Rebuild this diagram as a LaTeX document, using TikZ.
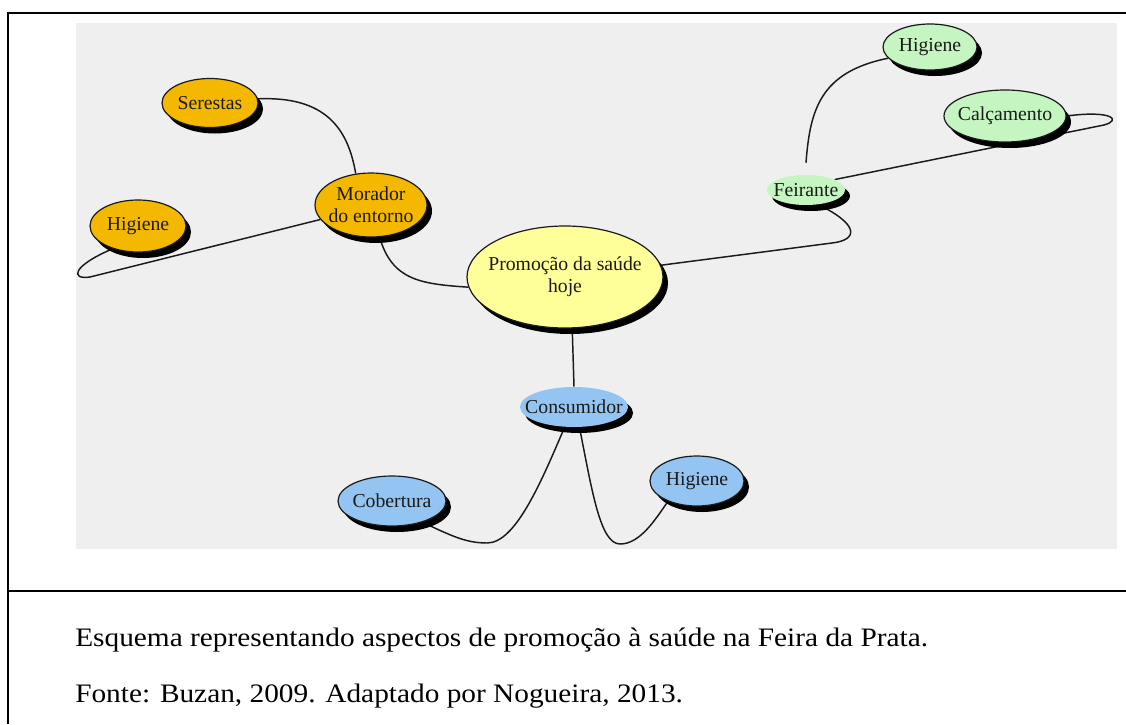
\documentclass[tikz,border=0pt]{standalone}
\usepackage{fontspec}
\usepackage{graphicx}
\setmainfont{Liberation Serif}
\usetikzlibrary{shapes.geometric,shadows}
\definecolor{orng}{HTML}{F5B800}
\definecolor{ylw}{HTML}{FFFF99}
\definecolor{grn}{HTML}{C5F5C0}
\definecolor{blu}{HTML}{94C4F2}
\definecolor{bggrey}{HTML}{EFEFEF}
\definecolor{ink}{HTML}{1A1A1A}
\pgfdeclarelayer{bg}
\pgfdeclarelayer{edges}
\pgfsetlayers{bg,edges,main}
\begin{document}
\begin{tikzpicture}[x=0.75pt,y=-0.75pt,
  bub/.style={ellipse, inner sep=0pt, general shadow={fill=black, shadow xshift=3.75pt, shadow yshift=-4.5pt}},
  bd/.style={draw=ink, line width=0.9pt},
  lbl/.style={font=\fontsize{14.8}{16.5}\selectfont, text=ink, align=center, inner sep=0pt},
  con/.style={line width=1.1pt, draw=ink},
  frame/.style={line width=1.3pt, draw=black},
  captxt/.style={font=\fontsize{20}{24}\selectfont, anchor=base west, inner sep=0pt}
]
\useasboundingbox (0,0) rectangle (1126,724);
\begin{pgfonlayer}{bg}
  \fill[white] (0,0) rectangle (1126,724);
  \fill[bggrey] (76,23) rectangle (1117,549);
\end{pgfonlayer}
\draw[frame] (8,724) -- (8,13) -- (1126,13);
\draw[frame] (8,591) -- (1126,591);

% nodes
\node[bub, bd, fill=orng, minimum width=72pt, minimum height=36.75pt, label={[lbl]center:Serestas}] (serestas) at (210,103) {};
\node[bub, bd, fill=orng, minimum width=84pt, minimum height=48pt, label={[lbl]center:{Morador\\do entorno}}] (morador) at (371,205) {};
\node[bub, bd, fill=orng, minimum width=72pt, minimum height=39pt, label={[lbl]center:Higiene}] (higL) at (138,226) {};
\node[bub, bd, fill=ylw, minimum width=147pt, minimum height=76.5pt, label={[lbl]center:{Promoção da saúde\\hoje}}] (promo) at (565,277) {};
\node[bub, fill=blu, minimum width=81pt, minimum height=30pt, label={[lbl]center:Consumidor}] (consumidor) at (574,407) {};
\node[bub, bd, fill=blu, minimum width=81pt, minimum height=37.5pt, label={[lbl]center:Cobertura}] (cobertura) at (392,501) {};
\node[bub, bd, fill=blu, minimum width=70.5pt, minimum height=37.5pt, label={[lbl]center:Higiene}] (higB) at (697,481) {};
\node[bub, fill=grn, minimum width=58.5pt, minimum height=22.5pt, label={[lbl]center:Feirante}] (feirante) at (806,190) {};
\node[bub, bd, fill=grn, minimum width=70.5pt, minimum height=34.5pt, label={[lbl]center:Higiene}] (higG) at (930,47) {};
\node[bub, bd, fill=grn, minimum width=91.5pt, minimum height=39pt, label={[lbl]center:Calçamento}] (calc) at (1005,116) {};

% connectors
\begin{pgfonlayer}{edges}
  \draw[con] (serestas.5) .. controls (325,96) and (348,128) .. (morador.116);
  \draw[con] (morador.196) -- (90,277) .. controls (70,280) and (72,266) .. (higL.222);
  \draw[con] (morador.285) .. controls (392,280) and (420,284) .. (promo.186);
  \draw[con] (promo.278) -- (consumidor.north);
  \draw[con] (consumidor.245) .. controls (540,485) and (515,543) .. (487,543) .. controls (465,543) and (450,535) .. (cobertura.325);
  \draw[con] (consumidor.285) .. controls (592,490) and (600,544) .. (620,544) .. controls (640,544) and (655,520) .. (higB.215);
  \draw[con] (promo.7) -- (832,243) .. controls (858,240) and (860,225) .. (feirante.310);
  \draw[con] ([yshift=9pt]feirante.north) .. controls (810,110) and (820,72) .. (higG.195);
  \draw[con] (feirante.20) -- (1104,125) .. controls (1122,120) and (1112,110) .. (calc.east);
\end{pgfonlayer}

% caption
\node[captxt] (cap1) at (75,646) {\scalebox{1.1}[1]{Esquema representando aspectos de promoção à saúde na Feira da Prata.}};
\node[captxt] (cap2) at (75,702) {\scalebox{1.1}[1]{Fonte: Buzan, 2009. Adaptado por Nogueira, 2013.}};
\end{tikzpicture}
\end{document}
